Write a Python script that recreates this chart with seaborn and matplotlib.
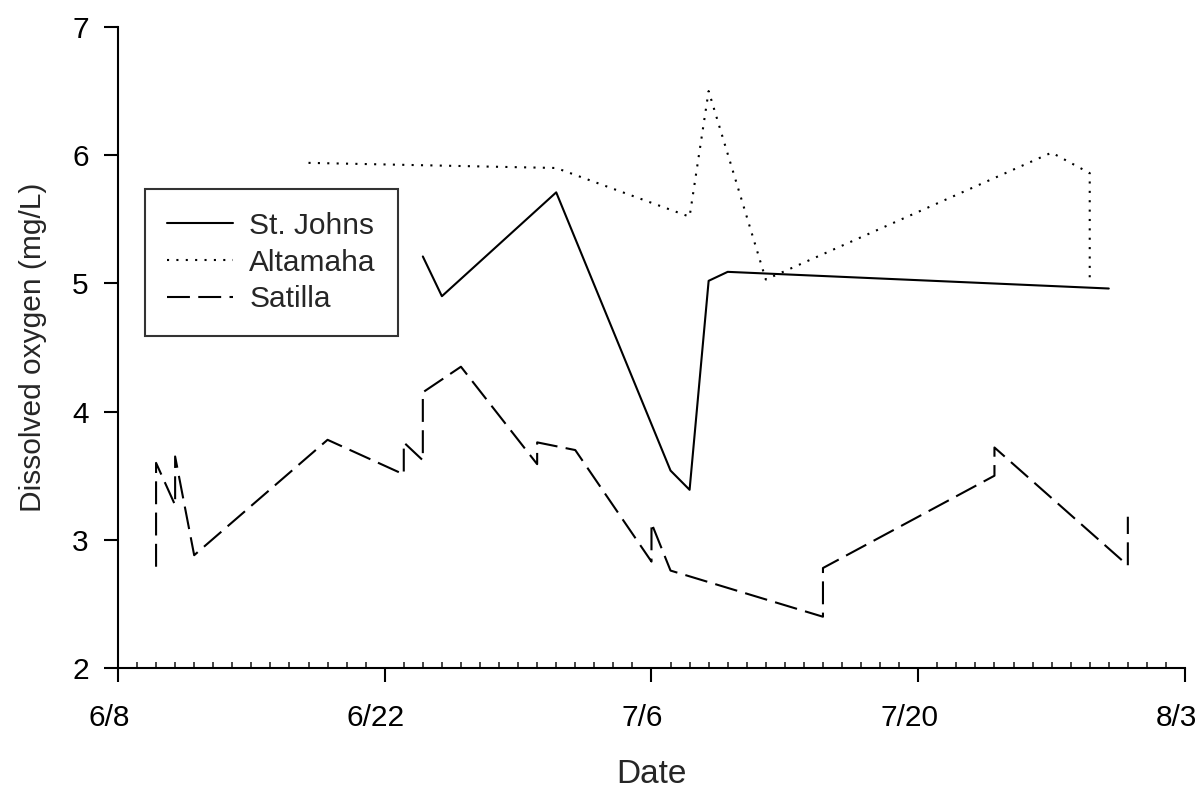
import pandas as pd
import seaborn as sns
import matplotlib.pyplot as plt
import matplotlib.dates as mdates
from matplotlib.transforms import ScaledTranslation

# Values (year is arbitrary, only month/day shown).
stjohns_dates = ['6/24', '6/25', '7/1', '7/7', '7/8', '7/9', '7/10', '7/30']
stjohns_do = [5.21, 4.90, 5.71, 3.54, 3.39, 5.02, 5.09, 4.96]

altamaha_dates = ['6/18', '7/1', '7/8', '7/9', '7/12', '7/27', '7/29', '7/29']
altamaha_do = [5.94, 5.90, 5.52, 6.50, 5.03, 6.02, 5.86, 5.03]

satilla_dates = ['6/10', '6/10', '6/11', '6/11', '6/12', '6/19', '6/23', '6/23',
                 '6/24', '6/24', '6/26', '6/30', '6/30', '7/2', '7/6', '7/6',
                 '7/7', '7/15', '7/15', '7/24', '7/24', '7/31', '7/31']
satilla_do = [2.79, 3.60, 3.27, 3.65, 2.88, 3.78, 3.51, 3.76,
              3.62, 4.15, 4.35, 3.59, 3.76, 3.70, 2.83, 3.13,
              2.76, 2.40, 2.78, 3.50, 3.72, 2.80, 3.18]

rivers = ['St. Johns', 'Altamaha', 'Satilla']
tick_labels = ['6/8', '6/22', '7/6', '7/20', '8/3']
y_ticks = [2, 3, 4, 5, 6, 7]


def to_date(md):
    return pd.to_datetime('2001/' + md, format='%Y/%m/%d')


def build_frame():
    parts = []
    for name, dates, vals in zip(rivers,
                                 (stjohns_dates, altamaha_dates, satilla_dates),
                                 (stjohns_do, altamaha_do, satilla_do)):
        parts.append(pd.DataFrame({'Date': [to_date(d) for d in dates],
                                   'DO': vals, 'River': name}))
    return pd.concat(parts, ignore_index=True)


sns.set_theme(style='ticks')
plt.rcParams['font.family'] = ['Liberation Sans', 'DejaVu Sans']

df = build_frame()

fig = plt.figure(figsize=(12, 7.93), dpi=100)
ax = fig.add_axes([0.0983, 0.1576, 0.8892, 0.8084])

sns.lineplot(data=df, x='Date', y='DO', hue='River', style='River',
             hue_order=rivers, style_order=rivers,
             palette={r: 'black' for r in rivers},
             dashes={'St. Johns': '', 'Altamaha': (1, 3.5), 'Satilla': (11, 4)},
             estimator=None, sort=False, linewidth=1.5, ax=ax)

ax.set_xlim(to_date('6/8'), to_date('8/3'))
ax.set_ylim(2, 7)
ax.set_xticks([to_date(t) for t in tick_labels])
ax.set_xticklabels(tick_labels)
ax.xaxis.set_minor_locator(mdates.DayLocator())
ax.set_yticks(y_ticks)

ax.tick_params(axis='both', which='major', labelsize=21.5, length=10, width=1.5,
               color='black', labelcolor='black', direction='out')
ax.tick_params(axis='x', which='major', pad=16)
ax.tick_params(axis='y', which='major', pad=11)
ax.tick_params(axis='x', which='minor', length=4, width=1.2, direction='in')
# the original draws the date labels a little left of their ticks
shift = ScaledTranslation(-9 / 100, 0, fig.dpi_scale_trans)
for lab in ax.get_xticklabels():
    lab.set_transform(lab.get_transform() + shift)
for side in ('left', 'bottom'):
    ax.spines[side].set_linewidth(1.5)
    ax.spines[side].set_color('black')
sns.despine(ax=ax)

ax.set_xlabel('Date', fontsize=24, labelpad=19)
ax.set_ylabel('Dissolved oxygen (mg/L)', fontsize=21.5, labelpad=18)

leg = ax.legend(loc='upper left', bbox_to_anchor=(0.025, 0.747), fontsize=21.5,
                frameon=True, fancybox=False, edgecolor='black',
                handlelength=2.2, borderpad=0.75, labelspacing=0.3,
                handletextpad=0.55, borderaxespad=0)
leg.get_frame().set_linewidth(1.5)
leg.set_title(None)

plt.savefig('out.png', dpi=100)
